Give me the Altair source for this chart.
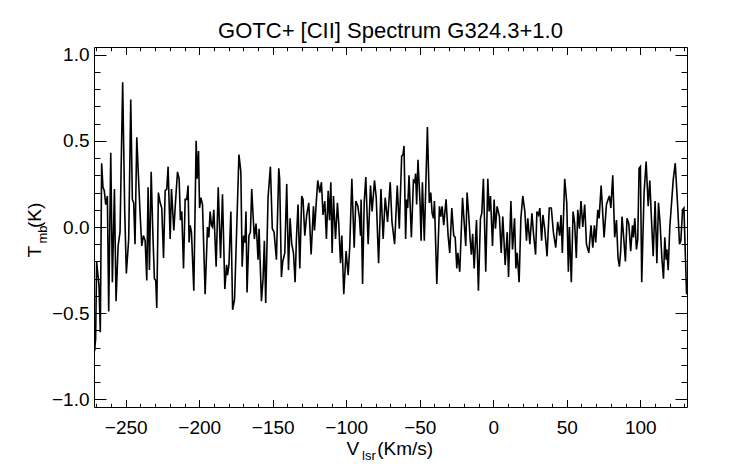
import altair as alt
import pandas as pd

# Spectrum: velocity (km/s) and main-beam temperature (K)
VEL = [
    -271.2, -270.5, -269.8, -268.9, -268.2, -267.3, -266.4, -265.5, -264.6, -263.6,
    -262.5, -261.6, -260.2, -259.1, -257.7, -256.6, -255.2, -253.9, -252.1, -250.7,
    -249.6, -248.0, -246.6, -245.5, -244.6, -243.7, -242.5, -241.4, -240.2, -239.1,
    -238.0, -236.8, -235.7, -234.8, -233.9, -232.7, -231.6, -230.5, -229.6, -228.9,
    -227.8, -226.6, -225.5, -224.3, -223.2, -222.1, -221.2,
    -219.8, -218.9, -217.3, -216.2, -214.8, -213.7, -212.8, -211.9, -210.7, -209.6,
    -208.5, -207.6, -206.9, -206.2, -205.3, -203.7, -202.1, -201.4, -200.5, -199.8,
    -198.9, -197.8, -196.0, -194.4, -193.5, -192.6, -191.7, -191.0, -190.1, -188.5,
    -187.1, -185.5, -184.2, -182.6, -181.4, -180.8, -179.8, -178.5, -177.3, -176.0,
    -174.6, -173.0, -171.7, -170.8,
    -169.8, -168.9, -168.2, -167.5, -166.2, -165.2, -164.3, -163.4, -162.5, -161.4,
    -160.7, -160.0, -159.3, -157.7, -156.6, -155.7, -154.8, -153.2, -151.6, -150.3,
    -149.1, -147.5, -145.9, -145.3, -144.1, -143.2, -141.8, -140.5, -139.3, -138.2,
    -137.1, -135.9, -134.8, -133.9, -132.8, -131.6, -130.3, -129.4, -128.2, -126.9,
    -125.5, -123.9, -122.3, -121.6, -120.5, -119.4,
    -118.0, -116.9, -115.8, -114.6, -113.5, -112.3, -111.4, -110.5, -109.6, -108.7,
    -107.3, -106.0, -105.1, -103.9, -103.0, -101.7, -100.1, -98.7, -97.6, -96.2,
    -94.6, -93.5, -92.1, -91.0, -90.3, -89.9, -88.9, -87.8, -86.7, -85.1,
    -83.5, -82.4, -80.8, -79.6, -78.0, -76.4, -74.9, -73.5, -71.9, -70.1,
    -68.9, -67.1, -65.3, -63.9, -62.3, -61.4, -60.7, -59.6, -58.9, -58.2,
    -57.3, -55.7, -54.3, -53.4, -52.8, -52.1, -51.2, -49.8, -49.1, -48.2,
    -46.9, -44.8, -43.5, -42.5, -41.6, -40.7, -40.0, -38.4, -36.6, -35.7,
    -34.8, -33.7, -32.1, -30.7, -29.6, -28.2, -26.9, -25.9, -24.8, -24.1,
    -22.8, -20.9, -19.8, -18.7,
    -17.8, -16.7, -15.8, -14.9, -14.0, -13.0, -11.4, -10.1, -8.7, -7.8,
    -6.7, -5.1, -3.7, -2.8, -1.9, -0.5, 0.6, 1.5, 2.6, 4.2,
    5.4, 6.5, 8.1, 9.5, 10.4, 12.0, 13.1, 14.5, 15.4, 16.3,
    17.6, 18.8, 20.1, 21.5, 22.6, 23.5, 24.9, 26.3, 27.4, 28.8,
    29.7, 30.8, 31.7,
    32.9, 33.8, 35.0, 36.6, 38.1, 39.5, 40.9, 42.5, 43.8, 45.2,
    46.1, 47.0, 48.6, 50.0, 51.1, 51.8, 53.1, 54.3, 55.4, 56.5,
    57.5, 58.6, 59.7, 60.9, 62.2, 63.4, 65.0, 66.5, 67.7, 68.8,
    69.7, 71.1, 72.0, 73.4, 75.4, 77.0, 78.1, 79.0, 80.0, 81.3,
    82.6, 83.8, 84.9, 85.8, 86.7, 87.6, 88.8, 89.9, 91.0, 92.2,
    93.5, 94.7, 95.4, 96.3, 97.4, 98.3, 99.2, 100.1, 101.0, 102.6,
    104.0, 105.4, 106.5, 107.6, 108.8, 110.1, 111.3, 112.4, 113.5, 114.7,
    115.8, 116.7, 117.6, 118.1, 119.0, 120.1, 121.3, 122.4, 123.8, 125.4,
    126.7, 127.6, 128.8, 129.7, 130.6, 131.5,
]

TMB = [
    -0.72, -0.65, -0.20, -0.28, -0.34, -0.61, 0.37, 0.23, 0.21, 0.13,
    0.18, -0.49, 0.43, -0.32, 0.22, -0.43, -0.11, -0.03, 0.84, 0.09,
    -0.27, -0.07, 0.74, 0.16, 0.14, -0.10, 0.52, 0.30, 0.07, -0.11,
    -0.05, -0.08, -0.31, 0.23, -0.25, 0.32, -0.03, -0.30, -0.31, -0.47,
    0.20, 0.14, 0.11, -0.18, 0.21, 0.22, 0.35,
    -0.07, 0.22, -0.02, 0.14, 0.32, 0.28, 0.04, 0.09, -0.24, 0.16,
    0.16, 0.24, -0.09, 0.01, -0.03, -0.37, 0.50, 0.28, 0.44, 0.11,
    0.17, 0.13, -0.39, 0.00, -0.06, 0.09, 0.01, 0.00, 0.10, -0.23,
    0.23, -0.18, 0.19, -0.36, -0.22, -0.28, -0.22, 0.09, -0.48, -0.42,
    -0.03, 0.42, 0.32, -0.23,
    -0.05, -0.09, 0.09, -0.38, -0.05, -0.03, 0.22, 0.07, -0.07, 0.02,
    -0.07, -0.19, -0.01, -0.43, -0.30, -0.08, -0.44, 0.17, 0.35, -0.01,
    -0.03, -0.19, 0.34, 0.28, -0.29, -0.20, -0.15, 0.25, -0.25, 0.05,
    -0.10, -0.15, -0.32, -0.07, 0.13, -0.24, 0.18, 0.16, -0.05, 0.07,
    0.14, -0.16, 0.12, -0.02, 0.13, 0.27,
    0.20, 0.26, 0.07, 0.15, -0.07, 0.21, 0.04, 0.26, -0.15, 0.18,
    -0.07, 0.14, 0.02, -0.21, -0.05, -0.39, -0.14, -0.28, -0.11, 0.28,
    -0.12, 0.15, 0.12, 0.05, -0.05, 0.16, -0.33, 0.14, 0.29, -0.10,
    0.24, 0.09, 0.27, 0.17, -0.21, 0.22, -0.07, 0.17, 0.03, 0.26,
    0.03, -0.10, 0.24, -0.01, 0.41, 0.42, 0.47, -0.07, 0.16, 0.11,
    0.30, -0.06, 0.27, 0.26, 0.31, 0.13, 0.39, 0.14, -0.08, 0.26,
    -0.08, 0.58, 0.14, 0.20, 0.08, 0.05, 0.15, -0.33, 0.12, 0.06,
    0.12, 0.01, 0.16, -0.05, -0.15, 0.11, -0.05, -0.06, -0.24, -0.15,
    -0.26, 0.17, 0.03, -0.11,
    0.20, 0.07, -0.06, -0.16, -0.04, -0.24, 0.04, -0.37, 0.05, 0.08,
    0.28, -0.26, 0.28, 0.09, 0.18, -0.11, 0.16, -0.01, 0.12, 0.06,
    -0.15, 0.06, -0.22, -0.03, -0.29, 0.15, -0.13, 0.05, -0.24, -0.15,
    -0.32, 0.05, 0.18, 0.09, -0.08, 0.05, -0.10, 0.08, -0.04, -0.16,
    0.09, 0.07, 0.11,
    -0.08, 0.07, -0.01, -0.17, 0.11, 0.11, -0.03, -0.12, 0.03, -0.05,
    0.07, -0.15, 0.28, 0.14, -0.26, 0.00, -0.32, 0.09, 0.02, -0.18,
    0.10, -0.01, 0.15, 0.00, 0.13, -0.10, -0.15, 0.01, -0.12, 0.01,
    -0.09, 0.10, 0.05, 0.24, -0.06, 0.13, 0.16, 0.18, 0.11, 0.30,
    -0.06, 0.04, -0.18, -0.23, -0.14, 0.06, -0.07, -0.20, 0.05, 0.02,
    -0.14, 0.01, -0.06, 0.05, -0.13, -0.07, 0.34, 0.35, -0.32, 0.20,
    0.38, 0.12, 0.27, 0.05, -0.17, 0.15, -0.21, 0.14, 0.02, -0.18,
    -0.30, -0.06, -0.19, -0.13, -0.25, 0.00, 0.14, 0.27, 0.37, 0.13,
    -0.10, -0.08, 0.10, 0.11, -0.14, -0.39,
]

X_DOMAIN = [-271.6, 131.8]
Y_DOMAIN = [-1.044, 1.044]
X_MAJOR = [-250, -200, -150, -100, -50, 0, 50, 100]
X_MINOR = [-270, -260, -250, -240, -230, -220, -210, -200, -190, -180, -170,
           -160, -150, -140, -130, -120, -110, -100, -90, -80, -70, -60, -50,
           -40, -30, -20, -10, 0, 10, 20, 30, 40, 50, 60, 70, 80, 90, 100,
           110, 120, 130]
Y_MAJOR = [-1.0, -0.5, 0.0, 0.5, 1.0]
Y_MINOR = [-1.0, -0.9, -0.8, -0.7, -0.6, -0.5, -0.4, -0.3, -0.2, -0.1, 0.0,
           0.1, 0.2, 0.3, 0.4, 0.5, 0.6, 0.7, 0.8, 0.9, 1.0]

TITLE = "GOTC+ [CII] Spectrum G324.3+1.0"
FONT = "Liberation Sans"

df = pd.DataFrame({"v": VEL, "t": TMB})
base = alt.Chart(df)

xs = alt.Scale(domain=X_DOMAIN, nice=False, zero=False)
ys = alt.Scale(domain=Y_DOMAIN, nice=False, zero=False)


def ax(orient, values, size, labels=False, fmt=None, pad=0):
    kw = dict(orient=orient, values=values, tickSize=size, offset=-size,
              domain=False, grid=False, title=None, labels=labels, ticks=True,
              tickColor="black", tickWidth=1)
    if labels:
        kw.update(format=fmt, labelFont=FONT, labelFontSize=19,
                  labelColor="black", labelPadding=pad, labelFlush=False,
                  labelOverlap=False, labelBound=False)
    return alt.Axis(**kw)


line = base.mark_line(color="black", strokeWidth=1.6, clip=True).encode(
    x=alt.X("v:Q", scale=xs, axis=ax("bottom", X_MAJOR, 7.5, True, "d", 11.5)),
    y=alt.Y("t:Q", scale=ys, axis=ax("left", Y_MAJOR, 12, True, ".1f", 5)),
)


def ghost(xaxis, yaxis):
    return base.mark_line(opacity=0).encode(
        x=alt.X("v:Q", scale=xs, axis=xaxis),
        y=alt.Y("t:Q", scale=ys, axis=yaxis),
    )


g1 = ghost(ax("bottom", X_MINOR, 3.7), ax("left", Y_MINOR, 6))
g2 = ghost(ax("top", X_MAJOR, 7.5), ax("right", Y_MAJOR, 12))
g3 = ghost(ax("top", X_MINOR, 3.7), ax("right", Y_MINOR, 6))

one = pd.DataFrame({"k": [0]})


def txt(s, x, y, size, angle=0, align="left"):
    return alt.Chart(one).mark_text(
        text=s, font=FONT, fontSize=size, align=align, baseline="alphabetic",
        angle=angle, color="black"
    ).encode(x=alt.value(x), y=alt.value(y))


texts = [
    txt(TITLE, 296.5, -8.7, 22, align="center"),
    txt("V", 252.5, 408, 19),
    txt("lsr", 268.0, 413, 13),
    txt("(Km/s)", 283.2, 408, 19),
    txt("T", -52.6, 210.6, 19, angle=270),
    txt("mb", -47.5, 196.5, 13, angle=270),
    txt("(K)", -52.6, 181, 19, angle=270),
]

chart = alt.layer(line, g1, g2, g3, *texts).resolve_scale(
    x="shared", y="shared"
).resolve_axis(
    x="independent", y="independent"
).properties(
    width=593, height=360,
    autosize=alt.AutoSizeParams(type="none"),
    padding={"left": 86, "top": 39, "right": 40, "bottom": 57},
    background="white",
).configure_view(stroke="black", strokeWidth=1)

chart.save("out.html", embed_options={"renderer": "svg", "actions": False})
